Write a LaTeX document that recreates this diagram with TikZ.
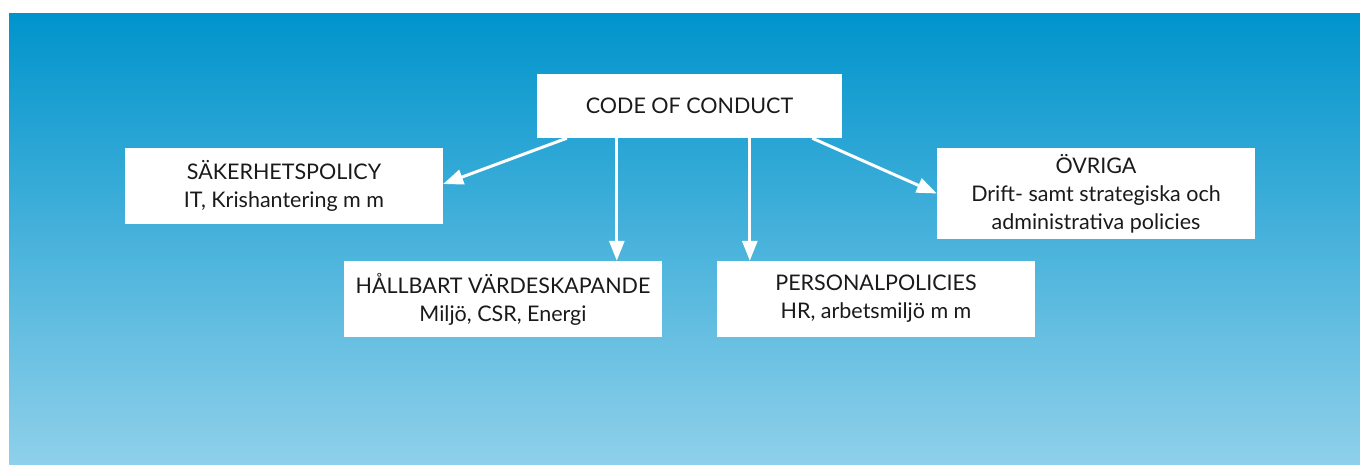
\documentclass[tikz,border=0pt]{standalone}
\usepackage{fontspec}
\setmainfont{Lato}
\usetikzlibrary{arrows.meta,calc}
\definecolor{skytop}{RGB}{0,148,204}
\definecolor{skybottom}{RGB}{143,208,234}
\definecolor{inktext}{RGB}{26,26,26}
\tikzset{
  policybox/.style={fill=white, text=inktext, align=center, inner sep=0pt,
    minimum width=318pt, minimum height=76pt,
    font=\fontsize{21.5}{28}\selectfont},
  policyarrow/.style={draw=white, line width=3pt,
    -{Triangle[length=20pt,width=15pt]}}
}
\begin{document}
\begin{tikzpicture}[x=1pt,y=-1pt]
  \useasboundingbox (0,0) rectangle (1360,464);
  \fill [white] (0,0) rectangle (1360,464);
  \shade [top color=skytop, bottom color=skybottom] (9,13) rectangle (1360,464);
  % boxes
  \node [policybox, minimum width=305pt, minimum height=64pt] (coc) at (689.5,106) {CODE OF CONDUCT};
  \node [policybox] (sak) at (284,186) {SÄKERHETSPOLICY\\IT, Krishantering m m};
  \node [policybox, minimum height=91pt] (ovr) at (1096,193.5) {ÖVRIGA\\Drift- samt strategiska och\\administrativa policies};
  \node [policybox] (hall) at (503,299) {HÅLLBART VÄRDESKAPANDE\\Miljö, CSR, Energi};
  \node [policybox] (pers) at (876,299) {PERSONALPOLICIES\\HR, arbetsmiljö m m};
  % arrows
  \coordinate (c1) at ($(coc.south west)+(30,0)$);
  \coordinate (c2) at ($(coc.south west)+(80,0)$);
  \coordinate (c3) at ($(coc.south west)+(213,0)$);
  \coordinate (c4) at ($(coc.south east)+(-30,0)$);
  \draw [policyarrow] (c1) -- ($(sak.east)+(0,-2)$);
  \draw [policyarrow] (c2) -- (c2 |- hall.north);
  \draw [policyarrow] (c3) -- (c3 |- pers.north);
  \draw [policyarrow] (c4) -- (ovr.west);
\end{tikzpicture}
\end{document}
